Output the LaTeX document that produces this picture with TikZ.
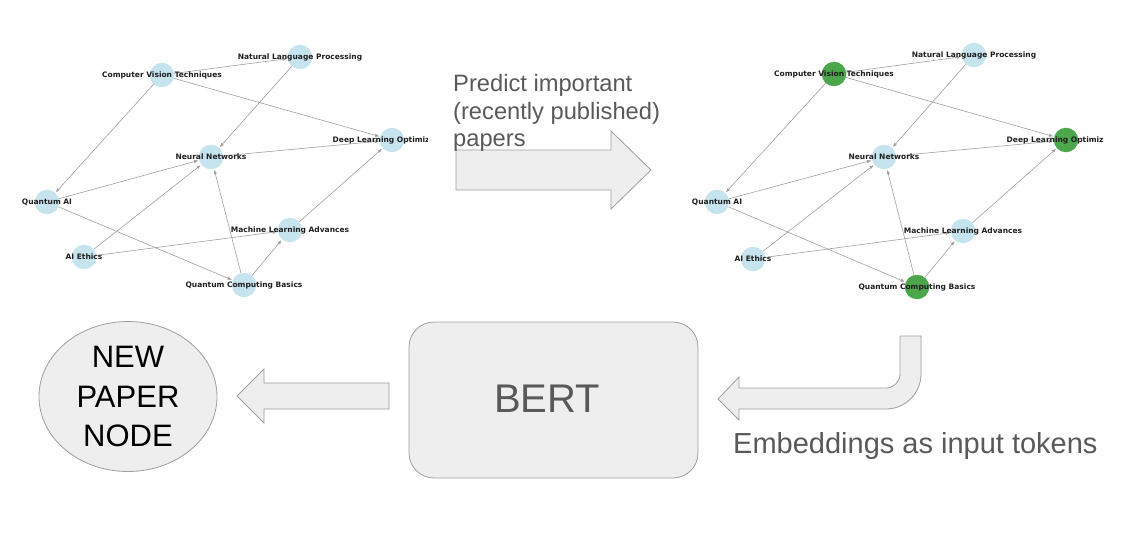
\documentclass[tikz,border=0pt]{standalone}
\usepackage{fontspec}
\setmainfont{Liberation Sans}
\newfontfamily\lblfont{DejaVu Sans}
\usetikzlibrary{arrows.meta,shapes.geometric}
\definecolor{nodeblue}{HTML}{C6E4EE}
\definecolor{nodegreen}{HTML}{4CA64C}
\definecolor{edgegray}{HTML}{A0A0A0}
\definecolor{boxfill}{HTML}{EEEEEE}
\definecolor{boxline}{HTML}{9E9E9E}
\definecolor{txtgray}{HTML}{595959}
\pgfdeclarelayer{bg}
\pgfsetlayers{bg,main}
\begin{document}
\begin{tikzpicture}[x=1pt,y=-1pt,
  gnode/.style={circle,fill=nodeblue,draw=none,minimum size=24.5pt,inner sep=0pt},
  hnode/.style={gnode,fill=nodegreen},
  glabel/.style={font=\lblfont\bfseries\fontsize{7.5}{8}\selectfont,text=black!88,inner sep=0pt},
  gedge/.style={draw=edgegray,line width=0.6pt,-{Triangle[length=4pt,width=3pt]},shorten >=1pt},
  block/.style={fill=boxfill,draw=boxline,line width=0.8pt},
  bigtxt/.style={text=txtgray,inner sep=0pt,anchor=base west,font=\fontsize{23.7}{28}\selectfont},
]
\useasboundingbox (0,0) rectangle (1132,543);

% ---------------- left graph ----------------
\node[gnode] (lcv)  at (162,75)  {};
\node[gnode] (lnlp) at (300,57)  {};
\node[gnode] (ldl)  at (392,140) {};
\node[gnode] (lnn)  at (211,157) {};
\node[gnode] (lqai) at (47,202)  {};
\node[gnode] (lmla) at (290,230) {};
\node[gnode] (laie) at (84,257)  {};
\node[gnode] (lqcb) at (244,285) {};
\begin{pgfonlayer}{bg}
\draw[gedge] (lcv) -- (lnlp);
\draw[gedge] (lcv) -- (ldl);
\draw[gedge] (lcv) -- (lqai);
\draw[gedge] (lnlp) -- (lnn);
\draw[gedge] (lnn) -- (ldl);
\draw[gedge] (lqai) -- (lnn);
\draw[gedge] (laie) -- (lnn);
\draw[gedge] (lqcb) -- (lnn);
\draw[gedge] (lqai) -- (lqcb);
\draw[gedge] (laie) -- (lmla);
\draw[gedge] (lqcb) -- (lmla);
\draw[gedge] (lmla) -- (ldl);
\end{pgfonlayer}
\node[glabel] (lcvt)  at (lcv)  {Computer Vision Techniques};
\node[glabel] (lnlpt) at (lnlp) {Natural Language Processing};
\node[glabel] (lnnt)  at (lnn)  {Neural Networks};
\node[glabel] (lqait) at (lqai) {Quantum AI};
\node[glabel] (lmlat) at (lmla) {Machine Learning Advances};
\node[glabel] (laiet) at (laie) {AI Ethics};
\node[glabel] (lqcbt) at (lqcb) {Quantum Computing Basics};
\begin{scope}
\clip (300,100) rectangle (427,180);
\node[glabel] (ldlt) at (ldl) {Deep Learning Optimization};
\end{scope}

% ---------------- right graph ----------------
\node[hnode] (rcv)  at (834,74)  {};
\node[gnode] (rnlp) at (974,55)  {};
\node[hnode] (rdl)  at (1066,140) {};
\node[gnode] (rnn)  at (884,157) {};
\node[gnode] (rqai) at (717,202) {};
\node[gnode] (rmla) at (963,231) {};
\node[gnode] (raie) at (753,259) {};
\node[hnode] (rqcb) at (917,287) {};
\begin{pgfonlayer}{bg}
\draw[gedge] (rcv) -- (rnlp);
\draw[gedge] (rcv) -- (rdl);
\draw[gedge] (rcv) -- (rqai);
\draw[gedge] (rnlp) -- (rnn);
\draw[gedge] (rnn) -- (rdl);
\draw[gedge] (rqai) -- (rnn);
\draw[gedge] (raie) -- (rnn);
\draw[gedge] (rqcb) -- (rnn);
\draw[gedge] (rqai) -- (rqcb);
\draw[gedge] (raie) -- (rmla);
\draw[gedge] (rqcb) -- (rmla);
\draw[gedge] (rmla) -- (rdl);
\end{pgfonlayer}
\node[glabel] (rcvt)  at (rcv)  {Computer Vision Techniques};
\node[glabel] (rnlpt) at (rnlp) {Natural Language Processing};
\node[glabel] (rnnt)  at (rnn)  {Neural Networks};
\node[glabel] (rqait) at (rqai) {Quantum AI};
\node[glabel] (rmlat) at (rmla) {Machine Learning Advances};
\node[glabel] (raiet) at (raie) {AI Ethics};
\node[glabel] (rqcbt) at (rqcb) {Quantum Computing Basics};
\begin{scope}
\clip (980,100) rectangle (1103,180);
\node[glabel] (rdlt) at (rdl) {Deep Learning Optimization};
\end{scope}

% ---------------- middle arrow and text ----------------
\path[block] (456,150) -- (611,150) -- (611,131) -- (651,170) -- (611,209)
  -- (611,190) -- (456,190) -- cycle;
\node[bigtxt] (p1) at (453,91.5)  {Predict important};
\node[bigtxt] (p2) at (453,119)   {(recently published)};
\node[bigtxt] (p3) at (453,146.5) {papers};

% ---------------- bottom row ----------------
\node[block,ellipse,minimum width=178pt,minimum height=150pt,inner sep=0pt,
  align=center,text=black,font=\fontsize{31}{39.5}\selectfont]
  (newnode) at (128,396.5) {NEW\\PAPER\\NODE};

\path[block] (389,383) -- (264,383) -- (264,369) -- (237,396) -- (264,423)
  -- (264,409) -- (389,409) -- cycle;

\node[block,rounded corners=25pt,minimum width=289pt,minimum height=156pt,
  inner sep=0pt] (bert) at (553.5,400) {};
\node[text=txtgray,inner sep=0pt,font=\fontsize{40}{48}\selectfont]
  (berttxt) at (547,399) {BERT};

\path[block] (900,336) -- (921,336) -- (921,374)
  .. controls (921,393.3) and (905.3,409) .. (886,409)
  -- (739,409) -- (739,420) -- (718,399) -- (739,377) -- (739,388)
  -- (886,388) .. controls (893.7,388) and (900,381.7) .. (900,374) -- cycle;

\node[text=txtgray,inner sep=0pt,anchor=base west,font=\fontsize{29}{34}\selectfont]
  (emb) at (733,453) {Embeddings as input tokens};
\end{tikzpicture}
\end{document}
